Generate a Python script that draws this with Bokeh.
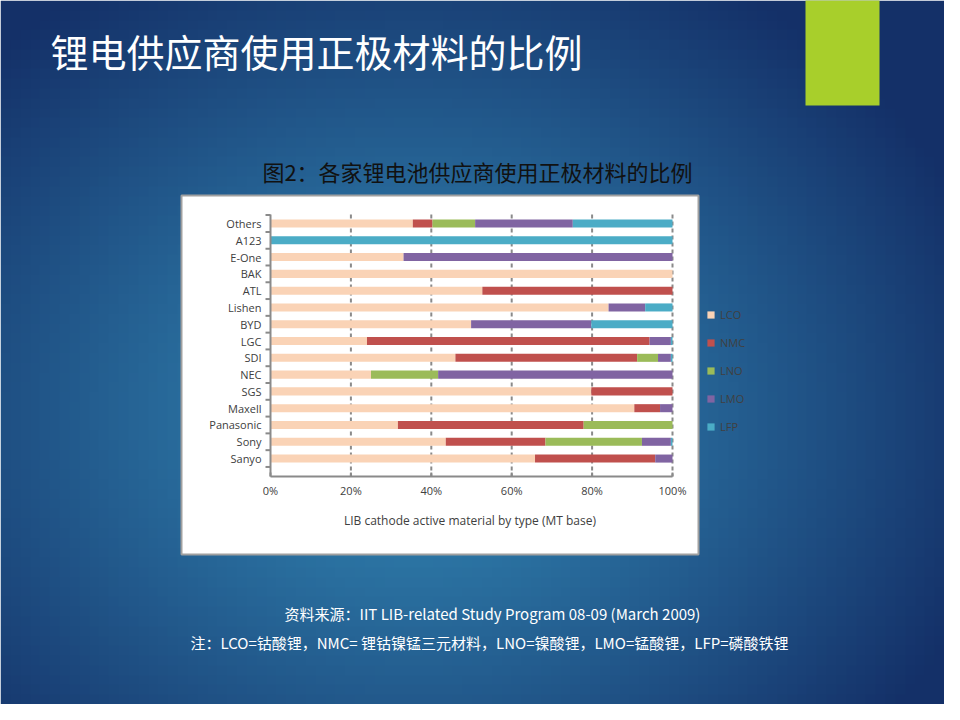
import numpy as np
from bokeh.plotting import figure
from bokeh.models import ColumnDataSource, Range1d, Legend, LegendItem
from bokeh.core.properties import value
from bokeh.embed import file_html
from bokeh.resources import INLINE

companies = ["Others","A123","E-One","BAK","ATL","Lishen","BYD","LGC","SDI","NEC","SGS","Maxell","Panasonic","Sony","Sanyo"]
materials = ["LCO","NMC","LNO","LMO","LFP"]
colors = ["#fad3b6","#c0504d","#9bbb59","#8064a2","#4bacc6"]
LCO = [35.4,0,33.1,100,52.7,84.1,49.9,24.0,46.0,25.0,79.8,90.5,31.7,43.6,65.8]
NMC = [4.9,0,0,0,47.3,0,0,70.3,45.2,0,20.2,6.4,46.2,24.8,29.9]
LNO = [10.6,0,0,0,0,0,0,0,5.2,16.7,0,0,22.1,24.0,0]
LMO = [24.3,0,66.9,0,0,9.1,29.9,5.3,3.2,58.3,0,3.1,0,7.2,4.3]
LFP = [24.8,100,0,0,0,6.8,20.2,0.4,0.4,0,0,0,0,0.4,0]
xticks = [0,20,40,60,80,100]
xtick_labels = [f"{t}%" for t in xticks]

W, H = 944, 704
# page px -> chart data (0% at page x 278, 100% at 680; Others row at page y 231, row pitch 16.79)
def dx(px): return (px-278)/402*100
def dy(py): return (py-231)/16.79
y_top, y_bot = dy(222), dy(484)

p = figure(width=W, height=H, output_backend="svg", toolbar_location=None,
           x_range=Range1d(dx(8), dx(8+W)), y_range=Range1d(dy(8+H), dy(8)),
           min_border=0, x_axis_location=None, y_axis_location=None)
p.outline_line_color = None
p.grid.grid_line_color = None
p.border_fill_color = "#1f5a8e"

# background radial gradient
nx, ny = 96, 72
gx, gy = np.meshgrid(np.linspace(0, 960, nx), np.linspace(0, 720, ny))
r = np.clip(np.hypot((gx-420)/620, (gy-420)/520), 0, 1)
c0, c1 = np.array([52,140,184]), np.array([20,48,104])
img = np.empty((ny, nx), dtype=np.uint32)
v = img.view(dtype=np.uint8).reshape((ny, nx, 4))
for k in range(3):
    v[:, :, k] = (c0[k] + (c1[k]-c0[k])*r**1.1).astype(np.uint8)
v[:, :, 3] = 255
p.image_rgba(image=[img], x=dx(8), y=dy(8), dw=dx(8+W)-dx(8), dh=dy(8+H)-dy(8))

# green accent and white chart box
p.quad(left=dx(813), right=dx(887), top=dy(0), bottom=dy(113), fill_color="#a8cf2b", line_color=None)
p.quad(left=dx(189), right=dx(706), top=dy(203), bottom=dy(562), fill_color="white", line_color="#a0a0a0", line_width=2)

# grid lines
p.segment(x0=xticks[1:], x1=xticks[1:], y0=[y_top]*5, y1=[y_bot]*5,
          line_color="#8a8a8a", line_width=2, line_dash="4 3")

src = ColumnDataSource(dict(y=list(range(len(companies))), LCO=LCO, NMC=NMC, LNO=LNO, LMO=LMO, LFP=LFP))
rs = p.hbar_stack(materials, y="y", height=0.48, color=colors, source=src, line_color=None)

# axes
p.segment(x0=[0, 0], x1=[0, 100], y0=[y_top, y_bot], y1=[y_bot, y_bot], line_color="#8a8a8a", line_width=2)
bnd = [i-0.5 for i in range(len(companies)+1)]
p.segment(x0=[0]*len(bnd), x1=[0]*len(bnd), y0=bnd, y1=bnd, x_offset=-5, line_color="#8a8a8a", line_width=2) if False else None
p.rect(x=[0]*len(bnd), y=bnd, width=5, height=2, width_units="screen", height_units="screen",
       x_offset=-2.5, fill_color="#8a8a8a", line_color=None) if False else None
p.ray(x=[0]*len(bnd), y=bnd, length=5, length_units="screen", angle=np.pi, line_color="#8a8a8a", line_width=2)
p.ray(x=xticks, y=[y_bot]*6, length=4, length_units="screen", angle=np.pi/2, line_color="#8a8a8a", line_width=2)
p.text(x=[0]*len(companies), y=list(range(len(companies))), text=companies, x_offset=-9,
       text_align="right", text_baseline="middle", text_font=value("Open Sans"),
       text_font_size="11px", text_color="#404040")
p.text(x=xticks, y=[dy(498)]*6, text=xtick_labels, text_align="center", text_baseline="middle",
       text_font=value("Open Sans"), text_font_size="11px", text_color="#404040")

def lab(text, px, py, size, color, align="left", font="Noto Sans CJK SC"):
    p.text(x=[dx(px)], y=[dy(py)], text=[text], text_font=value(font), text_font_size=size,
           text_color=color, text_align=align, text_baseline="middle")

lab("LIB cathode active material by type  (MT base)", 479, 528, "12px", "#404040", align="center", font="Open Sans")
lab("锂电供应商使用正极材料的比例", 58, 58, "38px", "white")
lab("图2：各家锂电池供应商使用正极材料的比例", 485, 178, "22px", "#111111", align="center")
lab("资料来源：IIT LIB-related Study Program 08-09 (March 2009)", 500, 621, "15px", "white", align="center")
lab("注：LCO=钴酸锂，NMC= 锂钴镍锰三元材料，LNO=镍酸锂，LMO=锰酸锂，LFP=磷酸铁锂", 497, 650, "15px", "white", align="center")

legend = Legend(items=[LegendItem(label=m, renderers=[r]) for m, r in zip(materials, rs)],
                location=(706, 268), background_fill_alpha=0, border_line_color=None,
                glyph_width=9, glyph_height=9, label_height=20, spacing=8,
                label_text_font="Open Sans", label_text_font_size="11px", label_text_color="#404040")
p.add_layout(legend)

open("out.html", "w").write(file_html(p, INLINE))
